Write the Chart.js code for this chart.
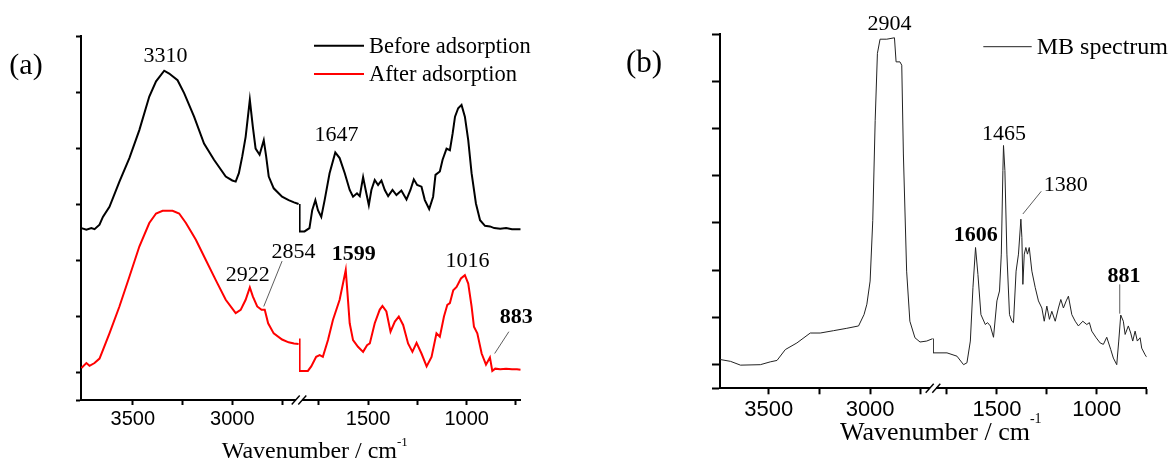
<!DOCTYPE html>
<html>
<head>
<meta charset="utf-8">
<script src="https://cdn.jsdelivr.net/npm/chart.js@4.4.0/dist/chart.umd.min.js"></script>
<style>
  html, body { margin: 0; padding: 0; background: #fff; }
  #wrap { position: relative; width: 1171px; height: 462px; }
  canvas { position: absolute; top: 0; }
  #chartA { left: 0; }
  #chartB { left: 585px; }
</style>
</head>
<body>
<div id="wrap">
  <canvas id="chartA" width="585" height="462"></canvas>
  <canvas id="chartB" width="586" height="462"></canvas>
</div>
<script>
// wavenumber ticks (every 250) and the ones that carry a label
const wnTicks = [3750, 3500, 3250, 3000, 2750, 1750, 1500, 1250, 1000, 750];
const wnLabels = [3500, 3000, 1500, 1000];

// (a) [wavenumber, absorbance] - high range (left of the break) and low range (right)
const beforeHighA = [
  [3758, 2.57], [3733, 2.54], [3708, 2.57], [3692, 2.55], [3667, 2.63], [3650, 2.77],
  [3617, 2.95], [3567, 3.40], [3517, 3.82], [3467, 4.32], [3417, 4.92], [3383, 5.19],
  [3342, 5.38], [3317, 5.33], [3275, 5.21], [3242, 4.98], [3192, 4.56], [3142, 4.08],
  [3092, 3.79], [3033, 3.49], [3000, 3.42], [2983, 3.40], [2967, 3.55], [2950, 3.85],
  [2933, 4.20], [2912, 4.86], [2897, 4.38], [2883, 3.99], [2863, 3.88], [2842, 4.14],
  [2830, 3.85], [2817, 3.49], [2792, 3.28], [2750, 3.13], [2717, 3.07], [2690, 3.03],
  [2667, 3.00]
];
const beforeLowA = [
  [1847, 3.00], [1847, 2.51], [1822, 2.51], [1797, 2.57], [1783, 2.89], [1767, 3.07],
  [1754, 2.89], [1737, 2.77], [1720, 3.07], [1695, 3.55], [1666, 3.92], [1644, 3.82],
  [1618, 3.55], [1593, 3.25], [1576, 3.13], [1556, 3.19], [1542, 3.14], [1525, 3.48],
  [1512, 3.25], [1496, 2.98], [1483, 3.25], [1466, 3.43], [1449, 3.34], [1432, 3.42],
  [1415, 3.25], [1398, 3.14], [1376, 3.25], [1356, 3.16], [1331, 3.24], [1305, 3.08],
  [1285, 3.25], [1268, 3.44], [1251, 3.34], [1229, 3.31], [1212, 3.07], [1190, 2.91],
  [1170, 3.13], [1158, 3.52], [1136, 3.58], [1122, 3.79], [1102, 3.99], [1085, 3.96],
  [1071, 4.26], [1059, 4.56], [1043, 4.71], [1026, 4.77], [1009, 4.56], [992, 4.14],
  [975, 3.55], [953, 3.01], [932, 2.71], [907, 2.61], [882, 2.60], [860, 2.57],
  [830, 2.56], [800, 2.57], [770, 2.55], [745, 2.55], [726, 2.55]
];
const afterHighA = [
  [3758, 0.07], [3733, 0.16], [3717, 0.11], [3692, 0.16], [3667, 0.24], [3650, 0.39],
  [3617, 0.69], [3567, 1.17], [3517, 1.70], [3467, 2.24], [3417, 2.66], [3383, 2.83],
  [3350, 2.88], [3300, 2.88], [3267, 2.83], [3233, 2.66], [3183, 2.36], [3133, 2.00],
  [3083, 1.64], [3033, 1.29], [2983, 1.05], [2958, 1.11], [2933, 1.29], [2912, 1.51],
  [2897, 1.35], [2875, 1.17], [2853, 1.11], [2837, 1.11], [2820, 0.87], [2792, 0.69],
  [2750, 0.58], [2717, 0.53], [2690, 0.51], [2667, 0.50]
];
const afterLowA = [
  [1847, 0.60], [1847, 0.02], [1805, 0.02], [1788, 0.10], [1763, 0.27], [1745, 0.30],
  [1729, 0.27], [1703, 0.57], [1678, 0.93], [1644, 1.29], [1627, 1.58], [1613, 1.82],
  [1603, 1.35], [1593, 0.87], [1576, 0.57], [1551, 0.45], [1525, 0.36], [1505, 0.48],
  [1491, 0.51], [1466, 0.87], [1441, 1.11], [1427, 1.18], [1407, 1.08], [1386, 0.72],
  [1364, 0.90], [1344, 0.99], [1322, 0.84], [1297, 0.51], [1275, 0.36], [1254, 0.52],
  [1229, 0.33], [1203, 0.10], [1178, 0.27], [1153, 0.69], [1136, 0.63], [1115, 0.99],
  [1098, 1.20], [1085, 1.23], [1068, 1.46], [1051, 1.52], [1029, 1.67], [1009, 1.73],
  [992, 1.58], [975, 1.17], [963, 0.81], [946, 0.69], [924, 0.33], [902, 0.13],
  [882, 0.26], [870, 0.02], [855, 0.06], [830, 0.05], [800, 0.06], [770, 0.05],
  [745, 0.05], [726, 0.04]
];

// (b) MB spectrum
const mbHigh = [
  [3740, 0.11], [3688, 0.07], [3639, -0.01], [3541, 0.00], [3492, 0.06], [3459, 0.09],
  [3418, 0.32], [3361, 0.46], [3295, 0.67], [3246, 0.67], [3180, 0.72], [3115, 0.77],
  [3057, 0.82], [3030, 1.06], [3016, 1.28], [3000, 1.77], [2987, 3.05], [2975, 5.17],
  [2964, 6.59], [2951, 6.89], [2918, 6.89], [2880, 6.92], [2872, 6.41], [2853, 6.41],
  [2844, 6.34], [2836, 4.46], [2820, 1.98], [2804, 0.92], [2779, 0.57], [2754, 0.48],
  [2721, 0.50], [2692, 0.55]
];
const mbLow = [
  [1820, 0.55], [1820, 0.25], [1750, 0.25], [1700, 0.18], [1667, 0.00], [1650, 0.04],
  [1633, 0.50], [1620, 1.63], [1607, 2.48], [1595, 1.91], [1580, 1.06], [1558, 0.85],
  [1547, 0.89], [1533, 0.82], [1517, 0.58], [1500, 1.35], [1487, 1.56], [1478, 2.34],
  [1470, 4.11], [1467, 4.64], [1460, 4.11], [1450, 2.34], [1437, 1.06], [1425, 0.92],
  [1417, 0.89], [1404, 1.98], [1392, 2.34], [1380, 3.08], [1375, 2.69], [1370, 1.70],
  [1363, 2.34], [1355, 2.48], [1347, 2.34], [1338, 2.48], [1325, 1.98], [1308, 1.63],
  [1292, 1.35], [1275, 1.20], [1263, 0.92], [1250, 1.24], [1237, 0.96], [1225, 1.13],
  [1208, 0.92], [1192, 1.20], [1180, 1.38], [1167, 1.20], [1153, 1.35], [1142, 1.45],
  [1125, 1.06], [1108, 0.92], [1092, 0.82], [1070, 0.92], [1050, 0.85], [1037, 0.89],
  [1025, 0.71], [1003, 0.57], [983, 0.46], [967, 0.43], [950, 0.58], [930, 0.32],
  [917, 0.14], [900, 0.00], [890, 0.50], [880, 1.05], [867, 0.92], [858, 0.64],
  [842, 0.82], [830, 0.67], [820, 0.50], [808, 0.71], [797, 0.50], [783, 0.57],
  [775, 0.35], [758, 0.21], [750, 0.16]
];

// peak labels: text, axis, wavenumber, absorbance (anchor = text baseline centre), bold
const peaksA = [
  ['3310', 'xL', 3336, 5.54, false],
  ['1647', 'xR', 1660, 4.12, false],
  ['2922', 'xL', 2922, 1.62, false],
  ['2854', 'xL', 2692, 2.04, false],
  ['1599', 'xR', 1573, 2.00, true],
  ['1016', 'xR', 996, 1.88, false],
  ['883', 'xR', 748, 0.87, true]
];
const leadersA = [
  ['xL', 2750, 1.98, 2842, 1.17],
  ['xR', 786, 0.72, 858, 0.33]
];
const peaksB = [
  ['2904', 'xL', 2904, 7.09, false],
  ['1465', 'xR', 1465, 4.75, false],
  ['1380', 'xR', 1155, 3.68, false],
  ['1606', 'xR', 1606, 2.62, true],
  ['881', 'xR', 864, 1.74, true]
];
const leadersB = [
  ['xR', 1278, 3.67, 1370, 3.19],
  ['xR', 885, 1.70, 885, 1.08]
];

const serif = "'Liberation Serif', 'Times New Roman', serif";
const sans = "'Liberation Sans', Arial, sans-serif";

function toPoints(pairs) {
  return pairs.map(([x, y]) => ({ x, y }));
}

function wnAxis(min, max, weight, tickLen, fontSize, hide) {
  return {
    type: 'linear',
    position: 'bottom',
    stack: 'wn',
    stackWeight: weight,
    reverse: true,
    min: min,
    max: max,
    // fixed tick positions, so the labels always fall on round numbers
    afterBuildTicks: (s) => {
      s.ticks = wnTicks
        .filter((v) => v >= min && v <= max && !hide.includes(v))
        .map((v) => ({ value: v }));
    },
    ticks: {
      autoSkip: false,
      maxRotation: 0,
      padding: 2,
      color: '#000',
      font: { family: sans, size: fontSize },
      callback: (v) => (wnLabels.includes(v) ? String(v) : '')
    },
    grid: { drawOnChartArea: false, tickLength: tickLen, tickColor: '#000', tickWidth: 2 },
    border: { display: true, color: '#000', width: 2 }
  };
}

function absAxis(max, tickLen) {
  return {
    type: 'linear',
    position: 'left',
    min: -0.5,
    max: max,
    ticks: { display: false, stepSize: 1 },
    grid: { drawOnChartArea: false, tickLength: tickLen, tickColor: '#000', tickWidth: 2 },
    border: { display: true, color: '#000', width: 2 }
  };
}

function line(pairs, axis, color, width) {
  return {
    data: toPoints(pairs),
    xAxisID: axis,
    yAxisID: 'y',
    borderColor: color,
    borderWidth: width,
    pointRadius: 0,
    tension: 0,
    fill: false
  };
}

// axis break, texts, legend
function decor(cfg) {
  return {
    id: 'decor',
    afterDraw(chart) {
      const { ctx, scales } = chart;
      const ys = scales.y;
      ctx.save();

      const bx = scales.xL.right;
      const by = chart.chartArea.bottom;
      ctx.fillStyle = '#fff';
      ctx.fillRect(bx - 3, by - 2, 6, 4);
      ctx.strokeStyle = '#000';
      ctx.lineWidth = 1.4;
      [-3.3, 3.3].forEach((dx) => {
        ctx.beginPath();
        ctx.moveTo(bx + dx - 4, by + 4.5);
        ctx.lineTo(bx + dx + 4, by - 4.5);
        ctx.stroke();
      });

      ctx.fillStyle = '#000';
      ctx.textAlign = 'center';
      ctx.textBaseline = 'alphabetic';
      cfg.peaks.forEach(([text, axis, wn, v, bold]) => {
        ctx.font = (bold ? 'bold ' : '') + cfg.peakSize + 'px ' + serif;
        ctx.fillText(text, scales[axis].getPixelForValue(wn), ys.getPixelForValue(v));
      });

      ctx.strokeStyle = '#333';
      ctx.lineWidth = 0.8;
      cfg.leaders.forEach(([axis, w1, v1, w2, v2]) => {
        ctx.beginPath();
        ctx.moveTo(scales[axis].getPixelForValue(w1), ys.getPixelForValue(v1));
        ctx.lineTo(scales[axis].getPixelForValue(w2), ys.getPixelForValue(v2));
        ctx.stroke();
      });

      // panel letter
      ctx.font = cfg.letter.size + 'px ' + serif;
      ctx.fillText(cfg.letter.text, cfg.letter.x, cfg.letter.y);

      // legend
      ctx.textAlign = 'left';
      ctx.font = cfg.legend.size + 'px ' + serif;
      cfg.legend.items.forEach((it, i) => {
        const y = cfg.legend.y + i * cfg.legend.gap;
        ctx.strokeStyle = it.color;
        ctx.lineWidth = it.width;
        ctx.beginPath();
        ctx.moveTo(cfg.legend.x, y);
        ctx.lineTo(cfg.legend.x + cfg.legend.len, y);
        ctx.stroke();
        ctx.fillStyle = '#000';
        ctx.fillText(it.text, cfg.legend.x + cfg.legend.len + 5, y + cfg.legend.textDy);
      });

      // axis title with superscript
      const t = cfg.title;
      ctx.font = t.size + 'px ' + serif;
      ctx.fillText('Wavenumber / cm', t.x, t.y);
      const w = ctx.measureText('Wavenumber / cm').width;
      ctx.font = t.supSize + 'px ' + serif;
      ctx.fillText('-1', t.x + w, t.y - t.supRise);

      ctx.restore();
    }
  };
}

new Chart(document.getElementById('chartA'), {
  type: 'line',
  data: {
    datasets: [
      line(beforeHighA, 'xL', '#000', 2),
      line(beforeLowA, 'xR', '#000', 2),
      line(afterHighA, 'xL', '#f00', 2),
      line(afterLowA, 'xR', '#f00', 2)
    ]
  },
  options: {
    responsive: false,
    animation: false,
    layout: { padding: { left: 76, right: 64.3, top: 36, bottom: 29 } },
    scales: {
      xL: wnAxis(2665, 3760, 218, 5, 20, [3750]),
      xR: wnAxis(726, 1850, 221.7, 5, 20, []),
      y: absAxis(6, 5)
    },
    plugins: { legend: { display: false }, tooltip: { enabled: false } }
  },
  plugins: [decor({
    peaks: peaksA,
    leaders: leadersA,
    peakSize: 22,
    letter: { text: '(a)', x: 26, y: 74, size: 30 },
    legend: {
      x: 314, y: 45.7, gap: 28.3, len: 50, size: 22.5, textDy: 7.3,
      items: [
        { text: 'Before adsorption', color: '#000', width: 2 },
        { text: 'After adsorption', color: '#f00', width: 2 }
      ]
    },
    title: { x: 221.7, y: 457.5, size: 24, supSize: 13, supRise: 12 }
  })]
});

new Chart(document.getElementById('chartB'), {
  type: 'line',
  data: {
    datasets: [
      line(mbHigh, 'xL', '#222', 1),
      line(mbLow, 'xR', '#222', 1)
    ]
  },
  options: {
    responsive: false,
    animation: false,
    layout: { padding: { left: 127, right: 24.3, top: 34, bottom: 37.3 } },
    scales: {
      xL: wnAxis(2690, 3740, 213, 6, 22, []),
      xR: wnAxis(750, 1820, 213.7, 6, 22, []),
      y: absAxis(7, 8)
    },
    plugins: { legend: { display: false }, tooltip: { enabled: false } }
  },
  plugins: [decor({
    peaks: peaksB,
    leaders: leadersB,
    peakSize: 22,
    letter: { text: '(b)', x: 59, y: 72, size: 31 },
    legend: {
      x: 398.3, y: 46.7, gap: 28, len: 48.4, size: 24, textDy: 7.5,
      items: [{ text: 'MB spectrum', color: '#222', width: 1 }]
    },
    title: { x: 255, y: 440, size: 26, supSize: 14, supRise: 17 }
  })]
});
</script>
</body>
</html>
